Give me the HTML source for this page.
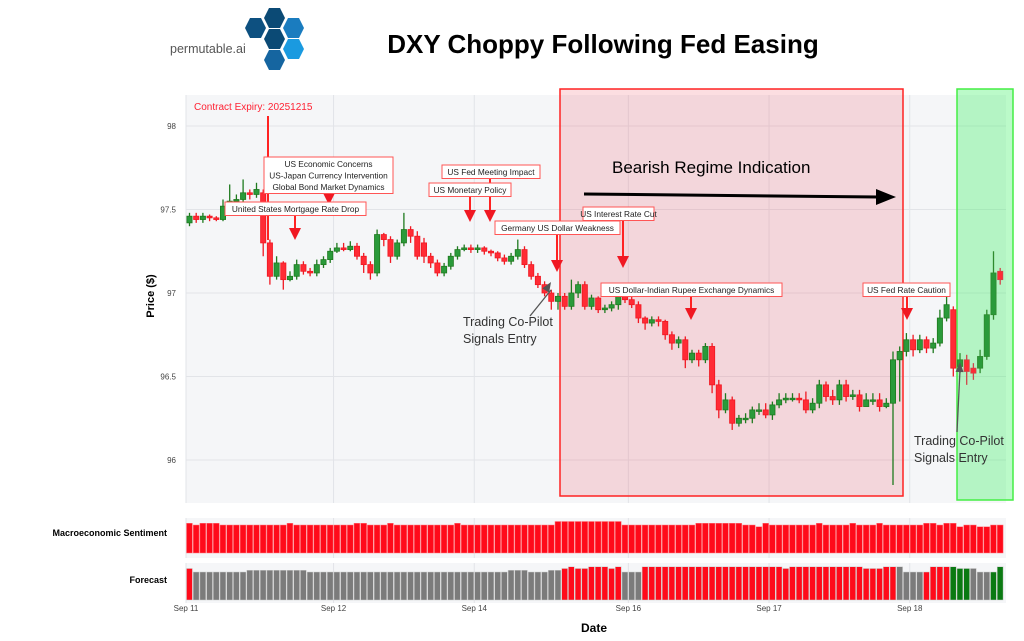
<!DOCTYPE html>
<html><head><meta charset="utf-8"><style>
body{margin:0;background:#fff;width:1024px;height:641px;overflow:hidden;font-family:"Liberation Sans",sans-serif}
svg{display:block}
</style></head><body>
<svg id="s" width="1024" height="641" xmlns="http://www.w3.org/2000/svg" font-family="Liberation Sans, sans-serif">
<g>
<polygon points="250,18 261,18 266,28 261,38 250,38 245,28" fill="#0d5080"/>
<polygon points="269,8 280,8 285,18 280,28 269,28 264,18" fill="#0b4a75"/>
<polygon points="269,29 280,29 285,39 280,49 269,49 264,39" fill="#0b4a75"/>
<polygon points="269,50 280,50 285,60 280,70 269,70 264,60" fill="#1565a0"/>
<polygon points="288,18 299,18 304,28 299,38 288,38 283,28" fill="#1a7cbf"/>
<polygon points="288,39 299,39 304,49 299,59 288,59 283,49" fill="#1a9ae0"/>
<text x="170" y="53" font-size="12.5" fill="#555">permutable.ai</text>
</g>
<text x="603" y="53" font-size="26" font-weight="bold" text-anchor="middle" fill="#000">DXY Choppy Following Fed Easing</text>
<rect x="186" y="95" width="820" height="408" fill="#f5f6f8"/>
<rect x="186" y="518" width="820" height="40" fill="#f5f6f8"/>
<rect x="186" y="563" width="820" height="40" fill="#f5f6f8"/>
<g id="grid"></g>
<rect x="560" y="89" width="343" height="407" fill="rgba(240,60,80,0.17)" stroke="#f22" stroke-width="1.5"/>
<rect x="957" y="89" width="56" height="411" fill="rgba(60,240,100,0.35)" stroke="#4e4" stroke-width="1.5"/>
<g id="candles"></g>
<g id="bars"></g>
<g id="ann"></g>
<text x="612" y="173" font-size="17" fill="#000">Bearish Regime Indication</text>
<line x1="584" y1="194" x2="878" y2="197" stroke="#000" stroke-width="3"/>
<polygon points="876,189 896,197 876,205" fill="#000"/>
<text transform="translate(154,296) rotate(-90)" font-size="11" font-weight="bold" text-anchor="middle">Price ($)</text>
<text x="594" y="632" font-size="12" font-weight="bold" text-anchor="middle">Date</text>
<text x="167" y="536" font-size="9" font-weight="bold" text-anchor="end">Macroeconomic Sentiment</text>
<text x="167" y="583" font-size="9" font-weight="bold" text-anchor="end">Forecast</text>
</svg>
<script>
const opens=[97.42,97.46,97.44,97.46,97.45,97.44,97.52,97.55,97.56,97.60,97.59,97.60,97.30,97.10,97.18,97.08,97.10,97.17,97.13,97.12,97.17,97.20,97.25,97.27,97.26,97.28,97.22,97.17,97.12,97.35,97.32,97.22,97.30,97.38,97.34,97.30,97.22,97.18,97.12,97.16,97.22,97.26,97.27,97.26,97.27,97.25,97.24,97.21,97.19,97.22,97.26,97.17,97.10,97.05,97.00,96.95,96.98,96.92,97.00,97.05,96.92,96.97,96.90,96.91,96.93,96.98,96.96,96.93,96.85,96.82,96.84,96.83,96.75,96.70,96.72,96.60,96.64,96.60,96.68,96.45,96.30,96.36,96.22,96.25,96.25,96.30,96.30,96.27,96.33,96.36,96.37,96.37,96.36,96.30,96.34,96.45,96.38,96.36,96.45,96.38,96.39,96.32,96.36,96.36,96.32,96.34,96.60,96.65,96.72,96.66,96.72,96.67,96.70,96.85,96.90,96.56,96.60,96.55,96.55,96.62,96.87,97.13];
const closes=[97.46,97.44,97.46,97.45,97.44,97.52,97.55,97.56,97.60,97.59,97.62,97.30,97.10,97.18,97.08,97.10,97.17,97.13,97.12,97.17,97.20,97.25,97.27,97.26,97.28,97.22,97.17,97.12,97.35,97.32,97.22,97.30,97.38,97.34,97.22,97.22,97.18,97.12,97.16,97.22,97.26,97.27,97.26,97.27,97.25,97.24,97.21,97.19,97.22,97.26,97.17,97.10,97.05,97.00,96.95,96.98,96.92,97.00,97.05,96.92,96.97,96.90,96.91,96.93,96.98,96.96,96.93,96.85,96.82,96.84,96.83,96.75,96.70,96.72,96.60,96.64,96.60,96.68,96.45,96.30,96.36,96.22,96.25,96.25,96.30,96.30,96.27,96.33,96.36,96.37,96.37,96.36,96.30,96.34,96.45,96.38,96.36,96.45,96.38,96.39,96.32,96.36,96.36,96.32,96.34,96.60,96.65,96.72,96.66,96.72,96.67,96.70,96.85,96.93,96.55,96.60,96.53,96.52,96.62,96.87,97.12,97.08];
const highs=[97.48,97.48,97.48,97.47,97.46,97.56,97.65,97.59,97.68,97.62,97.66,97.62,97.32,97.22,97.19,97.13,97.20,97.19,97.15,97.20,97.22,97.27,97.30,97.30,97.31,97.30,97.24,97.19,97.38,97.36,97.34,97.32,97.48,97.40,97.37,97.33,97.24,97.20,97.18,97.24,97.28,97.29,97.29,97.29,97.28,97.26,97.25,97.23,97.24,97.32,97.28,97.19,97.12,97.07,97.02,97.00,97.00,97.08,97.07,97.07,96.99,96.98,96.93,96.95,97.01,97.00,96.98,96.95,96.86,96.86,96.86,96.84,96.77,96.74,96.74,96.66,96.66,96.70,96.70,96.48,96.40,96.38,96.27,96.28,96.32,96.34,96.34,96.35,96.40,96.40,96.40,96.40,96.41,96.37,96.48,96.47,96.42,96.48,96.48,96.42,96.42,96.40,96.40,96.40,96.37,96.65,96.68,96.76,96.75,96.75,96.74,96.73,96.90,96.98,96.92,96.64,96.63,96.58,96.66,96.90,97.25,97.15];
const lows=[97.40,97.42,97.42,97.43,97.43,97.43,97.50,97.53,97.54,97.56,97.57,97.22,97.05,97.08,97.02,97.07,97.08,97.11,97.10,97.10,97.15,97.18,97.24,97.25,97.25,97.20,97.12,97.08,97.10,97.28,97.18,97.20,97.28,97.30,97.20,97.18,97.15,97.10,97.10,97.14,97.20,97.25,97.24,97.24,97.23,97.22,97.19,97.17,97.17,97.20,97.15,97.08,97.03,96.98,96.90,96.90,96.90,96.90,96.97,96.90,96.90,96.88,96.88,96.89,96.90,96.94,96.91,96.82,96.78,96.80,96.80,96.72,96.66,96.67,96.55,96.58,96.56,96.58,96.40,96.25,96.28,96.18,96.20,96.22,96.22,96.27,96.25,96.24,96.31,96.34,96.35,96.34,96.28,96.28,96.31,96.35,96.33,96.33,96.35,96.36,96.29,96.33,96.33,96.29,96.31,95.85,96.35,96.62,96.62,96.64,96.64,96.64,96.68,96.83,96.50,96.52,96.45,96.48,96.52,96.60,96.84,97.05];
const sentiment=[.85,.8,.85,.85,.85,.8,.8,.8,.8,.8,.8,.8,.8,.8,.8,.85,.8,.8,.8,.8,.8,.8,.8,.8,.8,.85,.85,.8,.8,.8,.85,.8,.8,.8,.8,.8,.8,.8,.8,.8,.85,.8,.8,.8,.8,.8,.8,.8,.8,.8,.8,.8,.8,.8,.8,.9,.9,.9,.9,.9,.9,.9,.9,.9,.9,.8,.8,.8,.8,.8,.8,.8,.8,.8,.8,.8,.85,.85,.85,.85,.85,.85,.85,.8,.8,.75,.85,.8,.8,.8,.8,.8,.8,.8,.85,.8,.8,.8,.8,.85,.8,.8,.8,.85,.8,.8,.8,.8,.8,.8,.85,.85,.8,.85,.85,.75,.8,.8,.75,.75,.8,.8];
const forecast=[.9,.8,.8,.8,.8,.8,.8,.8,.8,.85,.85,.85,.85,.85,.85,.85,.85,.85,.8,.8,.8,.8,.8,.8,.8,.8,.8,.8,.8,.8,.8,.8,.8,.8,.8,.8,.8,.8,.8,.8,.8,.8,.8,.8,.8,.8,.8,.8,.85,.85,.85,.8,.8,.8,.85,.85,.9,.95,.9,.9,.95,.95,.95,.9,.95,.8,.8,.8,.95,.95,.95,.95,.95,.95,.95,.95,.95,.95,.95,.95,.95,.95,.95,.95,.95,.95,.95,.95,.95,.9,.95,.95,.95,.95,.95,.95,.95,.95,.95,.95,.95,.9,.9,.9,.95,.95,.95,.8,.8,.8,.8,.95,.95,.95,.95,.9,.9,.9,.8,.8,.8,.95,.95];
const forecastColor=[];
for(let i=0;i<122;i++){forecastColor.push(i===0?'r':(i<56?'g':i<65?'r':i<68?'g':i<106?'r':i<110?'g':i<114?'r':i<117?'G':i<120?'g':'G'));}
const yTicks=[98,97.5,97,96.5,96];
const xTickLabels=['Sep 11','Sep 12','Sep 14','Sep 16','Sep 17','Sep 18'];
const xTickIdx=[0,21.5,42.5,65.5,86.5,107.5];
const annotations=[
 {t:['US Economic Concerns','US-Japan Currency Intervention','Global Bond Market Dynamics'],bx:264,by:157,bw:129,ax:329,ay:205},
 {t:['United States Mortgage Rate Drop'],bx:225,by:202,bw:141,ax:295,ay:240},
 {t:['US Fed Meeting Impact'],bx:442,by:165,bw:98,ax:490,ay:222},
 {t:['US Monetary Policy'],bx:429,by:183,bw:82,ax:470,ay:222},
 {t:['Germany US Dollar Weakness'],bx:495,by:221,bw:125,ax:557,ay:272},
 {t:['US Interest Rate Cut'],bx:583,by:207,bw:71,ax:623,ay:268},
 {t:['US Dollar-Indian Rupee Exchange Dynamics'],bx:601,by:283,bw:181,ax:691,ay:320},
 {t:['US Fed Rate Caution'],bx:863,by:283,bw:87,ax:907,ay:320}];
const NS='http://www.w3.org/2000/svg';
const X0=189.5,STEP=6.7;
function xs(i){return X0+i*STEP;}
function ys(p){return 126+(98-p)*167;}
function mk(tag,at,parent){const e=document.createElementNS(NS,tag);for(const k in at)e.setAttribute(k,at[k]);parent.appendChild(e);return e;}
const grid=document.getElementById('grid'),cg=document.getElementById('candles'),bg=document.getElementById('bars'),ag=document.getElementById('ann'),svg=document.getElementById('s');
yTicks.forEach(v=>{
 const l=mk('line',{x1:186,x2:1006,y1:ys(v),y2:ys(v),stroke:'#e2e4e8','stroke-width':1},grid);
 
 
 const t=mk('text',{x:176,y:ys(v)+3,'font-size':8,'text-anchor':'end',fill:'#444'},svg);t.textContent=String(v);
 
 
});
xTickIdx.forEach((k,j)=>{
 const x=j===0?186:xs(k);
 [[95,503],[518,558],[563,603]].forEach(r=>{const l=mk('line',{x1:x,x2:x,y1:r[0],y2:r[1],stroke:'#e2e4e8'},grid);
 
 });
 const t=mk('text',{x:x,y:611,'font-size':8,'text-anchor':'middle',fill:'#444'},svg);t.textContent=xTickLabels[j];
 
 
});
for(let i=0;i<closes.length;i++){
 const up=closes[i]>=opens[i];const col=i>=115?(up?'#2e8b2e':'#d0454a'):(up?'#1f7a1f':'#f01822');
 const x=xs(i);
 const w=mk('line',{x1:x,x2:x,y1:ys(highs[i]),y2:ys(lows[i]),stroke:col,'stroke-width':1.3},cg);
 
 
 const top=ys(Math.max(opens[i],closes[i])),bot=ys(Math.min(opens[i],closes[i]));
 const b=mk('rect',{x:x-2.6,y:top,width:5.2,height:Math.max(1.5,bot-top),fill:up?'#2a9a3a':'#ff2b35',stroke:col,'stroke-width':0.8},cg);
 
 
}
const fc={r:'#ff0a1a',g:'#7b7b7b',G:'#0a7a12'};
for(let i=0;i<sentiment.length;i++){
 const x=xs(i)-3;
 const h=sentiment[i]*35;
 const b=mk('rect',{x:x,y:553-h,width:5.9,height:h,fill:'#ff0a1a',stroke:'#ff7a80','stroke-width':0.5},bg);
 
 
 const h2=forecast[i]*35;
 const f=mk('rect',{x:x,y:600-h2,width:5.9,height:h2,fill:fc[forecastColor[i]],stroke:'#ccc','stroke-width':0.5},bg);
 
 
}
const ce=mk('text',{x:194,y:110,'font-size':10,fill:'#ff2233'},ag);ce.textContent='Contract Expiry: 20251215';


mk('line',{x1:268,x2:268,y1:116,y2:240,stroke:'#f22','stroke-width':2},ag);
annotations.forEach(a=>{
 const bh=a.t.length*11.5+2;
 mk('line',{x1:a.ax,x2:a.ax,y1:a.by+bh,y2:a.ay-10,stroke:'#f22','stroke-width':2},ag);
 mk('polygon',{points:`${a.ax-6},${a.ay-12} ${a.ax+6},${a.ay-12} ${a.ax},${a.ay}`,fill:'#f01822'},ag);
 const r=mk('rect',{x:a.bx,y:a.by,width:a.bw,height:bh,fill:'#fff',stroke:'#f55','stroke-width':1},ag);
 
 
 a.t.forEach((s,k)=>{const t=mk('text',{x:a.bx+a.bw/2,y:a.by+10+k*11.5,'font-size':8.3,'text-anchor':'middle',fill:'#222'},ag);t.textContent=s;
 
 });
});
[[463,326,530,316,551,282],[914,445,957,432,960,362]].forEach(p=>{
 const t=mk('text',{x:p[0],y:p[1],'font-size':12.5,fill:'#333'},ag);t.textContent='Trading Co-Pilot';
 
 
 const t2=mk('text',{x:p[0],y:p[1]+17,'font-size':12.5,fill:'#333'},ag);t2.textContent='Signals Entry';
 
 
 mk('line',{x1:p[2],y1:p[3],x2:p[4],y2:p[5]+8,stroke:'#555','stroke-width':1.3},ag);
 const dx=p[4]-p[2],dy=p[5]-p[3],L=Math.hypot(dx,dy),ux=dx/L,uy=dy/L;
 mk('polygon',{points:`${p[4]},${p[5]} ${p[4]-ux*10-uy*4},${p[5]-uy*10+ux*4} ${p[4]-ux*10+uy*4},${p[5]-uy*10-ux*4}`,fill:'#555'},ag);
});
</script>
</body></html>
